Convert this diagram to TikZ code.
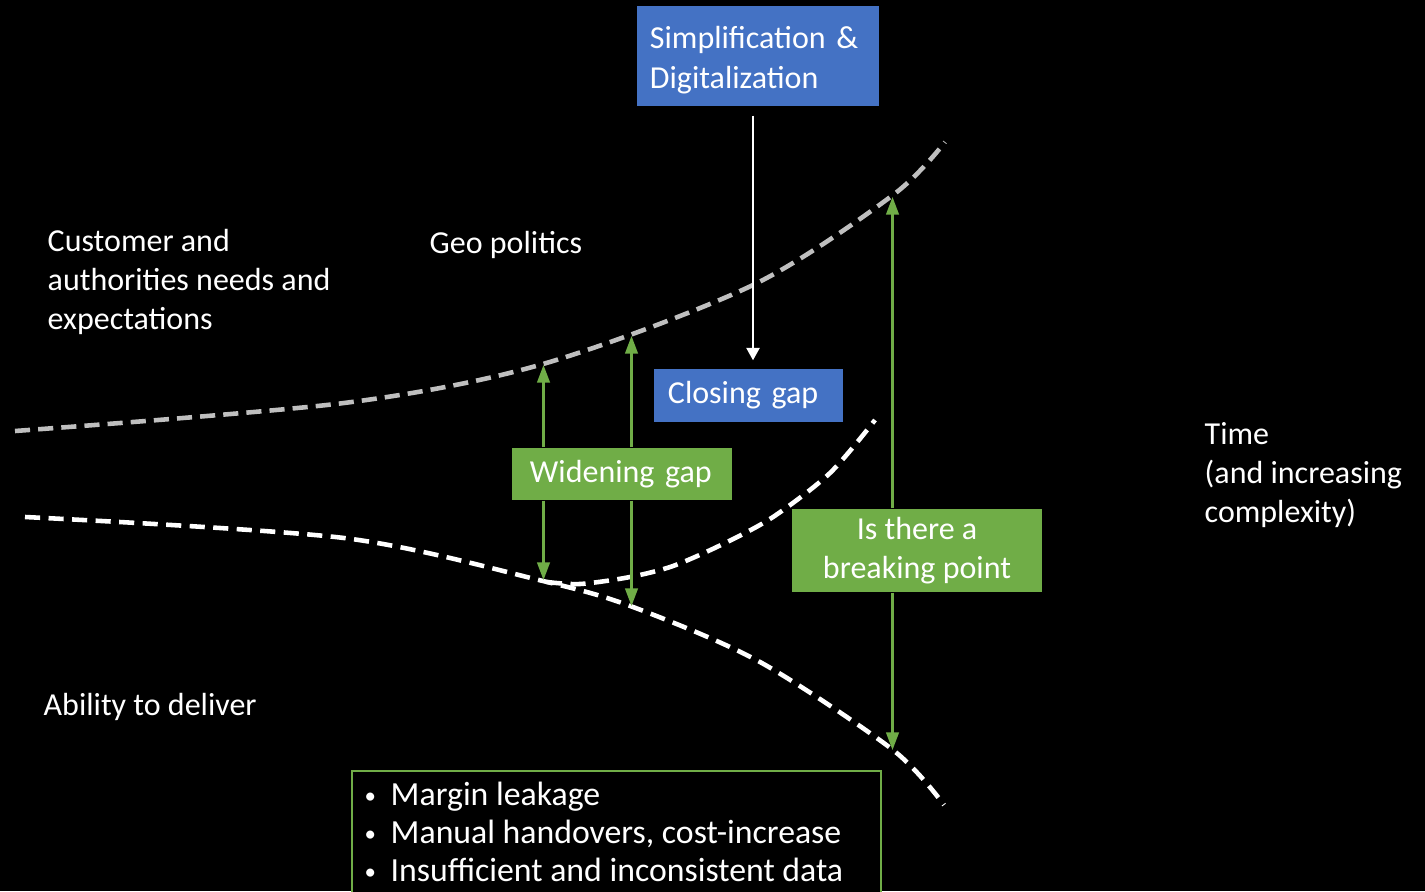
\documentclass[tikz,border=0pt]{standalone}
\usepackage{fontspec}
\setmainfont{Carlito}
\usetikzlibrary{arrows.meta}
\definecolor{eblue}{HTML}{4472C4}
\definecolor{egreen}{HTML}{70AD47}
\definecolor{egray}{HTML}{BFBFBF}
\newcommand{\mybul}{\makebox[0.26cm][l]{\raisebox{0.6pt}{\fontsize{6.5}{6}\selectfont •}}}
\begin{document}
\begin{tikzpicture}[x=0.01cm,y=-0.01cm,
  every node/.style={font=\fontsize{9.1}{11.1}\selectfont, text=white},
  lbl/.style={anchor=north west, inner sep=0pt, align=left},
  bluebox/.style={fill=eblue, inner sep=0pt},
  greenbox/.style={fill=egreen, inner sep=0pt},
  grayline/.style={draw=egray, line width=1.3pt, dash pattern=on 4.3pt off 2.3pt},
  whiteline/.style={draw=white, line width=1.3pt, dash pattern=on 4.3pt off 2.4pt},
  garrow/.style={draw=egreen, line width=0.6pt, -{Triangle[length=5pt,width=3.6pt]}},
  warrow/.style={draw=white, line width=0.6pt, -{Triangle[length=3.5pt,width=3.7pt]}}
]
\fill[black] (0,0) rectangle (1425,891);
\clip (0,0) rectangle (1425,891);

% curves
\draw[grayline] plot[smooth] coordinates {(15,431) (344,403) (543,364) (753,285) (893,195) (945,142)};
\draw[whiteline] plot[smooth] coordinates {(25,517) (344,538) (543,581) (633,607) (760,662) (893,750) (944,805)};
\draw[whiteline] plot[smooth] coordinates {(547,582) (580,584) (630,577) (673,566) (723,544) (773,517) (830,473) (875,420)};

% labels
\node[lbl] (cust) at (47,229) {Customer and\\authorities needs and\\expectations};
\node[lbl] (geo) at (429,231) {Geo politics};
\node[lbl] (time) at (1204,422) {Time\\(and increasing\\complexity)};
\node[lbl] (abil) at (43,693) {Ability to deliver};

% boxes
\node[bluebox, minimum width=2.42cm, minimum height=1.0cm, text width=2.16cm, align=left,
      font=\fontsize{9.1}{11.5}\selectfont] (simp) at (758,56) {\rule{0pt}{8.6pt}Simplification \&\\Digitalization};
\node[bluebox, minimum width=1.89cm, minimum height=0.53cm, text width=1.61cm, align=left] (cg) at (748.5,395.5) {Closing gap};
\node[greenbox, minimum width=2.20cm, minimum height=0.52cm, text width=1.84cm, align=left] (wg) at (622,474) {Widening gap};
\node[greenbox, minimum width=2.50cm, minimum height=0.83cm, align=center] (bp) at (917,550.5) {Is there a\\breaking point};

\node[draw=egreen, line width=0.5pt, fill=black, anchor=north west, minimum width=5.29cm, minimum height=1.5cm, inner sep=0pt] (issues) at (351,770) {};
\node[lbl, font=\fontsize{9.6}{10.9}\selectfont] (list) at (364,781) {\mybul Margin leakage\\\mybul Manual handovers, cost-increase\\\mybul Insufficient and inconsistent data};

% arrows
\coordinate (u1) at (543.5,365);
\coordinate (l1) at (543.5,580);
\coordinate (u2) at (631.5,336);
\coordinate (l2) at (631.5,606);
\coordinate (u3) at (892.5,197);
\coordinate (l3) at (892.5,750);
\coordinate (wx) at (753,0);
\draw[garrow] (wg.north -| u1) -- (u1);
\draw[garrow] (wg.south -| l1) -- (l1);
\draw[garrow] (wg.north -| u2) -- (u2);
\draw[garrow] (wg.south -| l2) -- (l2);
\draw[garrow] (bp.north -| u3) -- (u3);
\draw[garrow] (bp.south -| l3) -- (l3);
\draw[warrow, shorten <=0.09cm, shorten >=0.08cm] (simp.south -| wx) -- (cg.north -| wx);
\end{tikzpicture}
\end{document}
